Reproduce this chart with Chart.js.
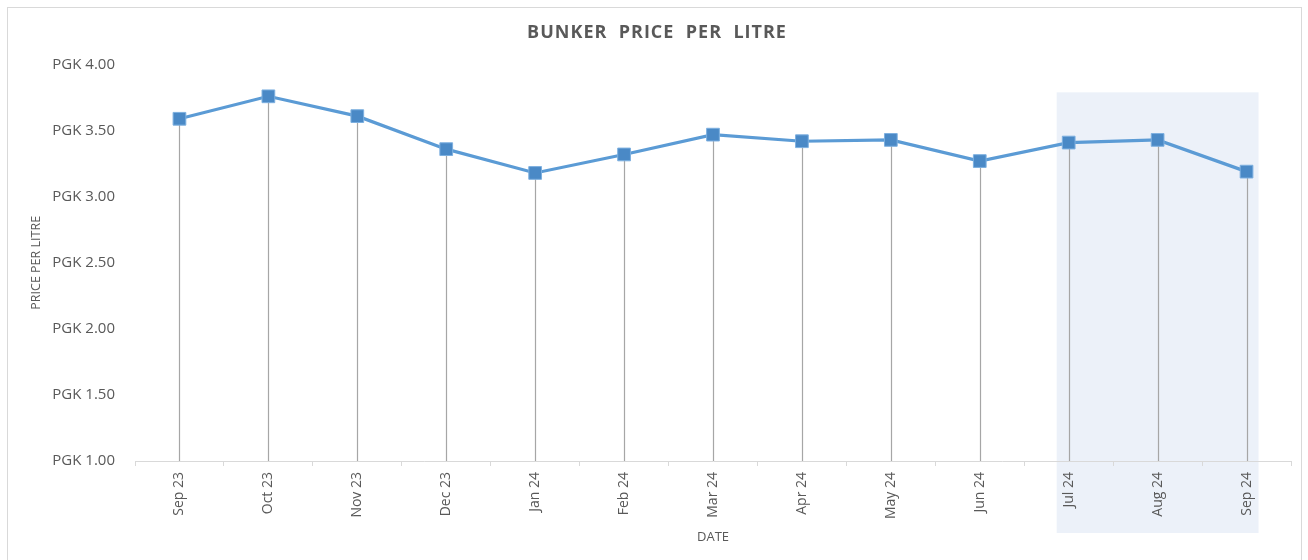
<!DOCTYPE html>
<html>
<head>
<meta charset="utf-8">
<script src="https://cdn.jsdelivr.net/npm/chart.js@4/dist/chart.umd.min.js"></script>
<style>
  html, body { margin: 0; padding: 0; background: #ffffff; }
  #wrap { position: relative; width: 1308px; height: 560px; overflow: hidden; }
  #frame { position: absolute; left: 7px; top: 7px; width: 1295px; height: 600px; border: 1px solid #D9D9D9; box-sizing: border-box; }
  #c { position: absolute; left: 0; top: 0; }
</style>
</head>
<body>
<div id="wrap">
  <div id="frame"></div>
  <canvas id="c" width="1308" height="560"></canvas>
</div>
<script>
// ---- data ----
const categories = ['Sep 23', 'Oct 23', 'Nov 23', 'Dec 23', 'Jan 24', 'Feb 24', 'Mar 24', 'Apr 24', 'May 24', 'Jun 24', 'Jul 24', 'Aug 24', 'Sep 24'];
const pricePerLitre = [3.59, 3.76, 3.61, 3.36, 3.18, 3.32, 3.47, 3.42, 3.43, 3.27, 3.41, 3.43, 3.19];
const yTickValues = [1.00, 1.50, 2.00, 2.50, 3.00, 3.50, 4.00];
const highlightCategories = ['Jul 24', 'Sep 24'];
const highlightTopValue = 3.79;

const FONT = "'Open Sans', 'Noto Sans', sans-serif";
const TEXT = '#595959';

// shaded highlight band behind the last months
const highlightPlugin = {
  id: 'highlightBand',
  beforeDraw(chart) {
    const x = chart.scales.x, y = chart.scales.y;
    const i0 = categories.indexOf(highlightCategories[0]);
    const i1 = categories.indexOf(highlightCategories[1]);
    const half = (x.getPixelForValue(1) - x.getPixelForValue(0)) / 2;
    const left = x.getPixelForValue(i0) - half * 0.27;
    const right = x.getPixelForValue(i1) + half * 0.27;
    const top = y.getPixelForValue(highlightTopValue);
    const bottom = x.bottom - 27;
    const ctx = chart.ctx;
    ctx.save();
    ctx.fillStyle = '#ECF1F9';
    ctx.fillRect(left, top, right - left, bottom - top);
    ctx.restore();
  }
};

// vertical drop lines from each point to the axis
const dropLinePlugin = {
  id: 'dropLines',
  beforeDatasetsDraw(chart) {
    const meta = chart.getDatasetMeta(0);
    const ctx = chart.ctx;
    const bottom = chart.chartArea.bottom;
    ctx.save();
    ctx.strokeStyle = '#A6A6A6';
    ctx.lineWidth = 1.2;
    meta.data.forEach(p => {
      ctx.beginPath();
      ctx.moveTo(Math.round(p.x) + 0.5, p.y);
      ctx.lineTo(Math.round(p.x) + 0.5, bottom);
      ctx.stroke();
    });
    ctx.restore();
  }
};

// letter-spaced chart title
const titleSpacingPlugin = {
  id: 'titleSpacing',
  afterInit(chart) {
    const tb = chart.titleBlock;
    if (!tb || tb._spacedPatched) return;
    const orig = tb.draw;
    tb.draw = function () {
      const ctx = chart.ctx;
      const prev = ctx.letterSpacing;
      ctx.letterSpacing = '1px';
      orig.apply(this, arguments);
      ctx.letterSpacing = prev || '0px';
    };
    tb._spacedPatched = true;
  }
};

new Chart(document.getElementById('c'), {
  type: 'line',
  data: {
    labels: categories,
    datasets: [{
      label: 'Price per litre',
      data: pricePerLitre,
      borderColor: '#5B9BD5',
      borderWidth: 3.2,
      tension: 0,
      pointStyle: 'rect',
      pointRadius: 9,
      pointHoverRadius: 9,
      pointBackgroundColor: '#4A89C6',
      pointBorderColor: '#7DB0E0',
      pointBorderWidth: 1
    }]
  },
  options: {
    responsive: false,
    animation: false,
    events: [],
    layout: { padding: { left: 23, right: 17, top: 7, bottom: 0 } },
    plugins: {
      legend: { display: false },
      tooltip: { enabled: false },
      title: {
        display: true,
        text: 'BUNKER  PRICE  PER  LITRE',
        color: TEXT,
        font: { family: FONT, size: 18, weight: 'bold', lineHeight: 1.2 },
        padding: { top: 15, bottom: 21 }
      }
    },
    scales: {
      x: {
        offset: true,
        afterFit(scale) { scale.height = 99; },
        grid: { display: true, drawOnChartArea: false, drawTicks: true, tickLength: 5, offset: true, color: '#D9D9D9' },
        border: { display: true, color: '#D9D9D9', width: 1 },
        ticks: {
          color: TEXT,
          font: { family: FONT, size: 14 },
          minRotation: 90,
          maxRotation: 90,
          padding: 6,
          autoSkip: false
        },
        title: {
          display: true,
          text: 'DATE',
          color: TEXT,
          font: { family: FONT, size: 13 },
          padding: { top: 0, bottom: 14.5 }
        }
      },
      y: {
        min: 1,
        max: 4,
        afterFit(scale) { scale.width = 112; },
        afterBuildTicks(scale) { scale.ticks = yTickValues.map(v => ({ value: v })); },
        grid: { display: false, drawTicks: false },
        border: { display: false },
        ticks: {
          color: TEXT,
          font: { family: FONT, size: 15 },
          padding: 20,
          callback: v => 'PGK ' + Number(v).toFixed(2)
        },
        title: {
          display: true,
          text: 'PRICE PER LITRE',
          color: TEXT,
          font: { family: FONT, size: 12.5 },
          padding: { top: 5.5, bottom: 0 }
        }
      }
    }
  },
  plugins: [highlightPlugin, dropLinePlugin, titleSpacingPlugin]
});
</script>
</body>
</html>
